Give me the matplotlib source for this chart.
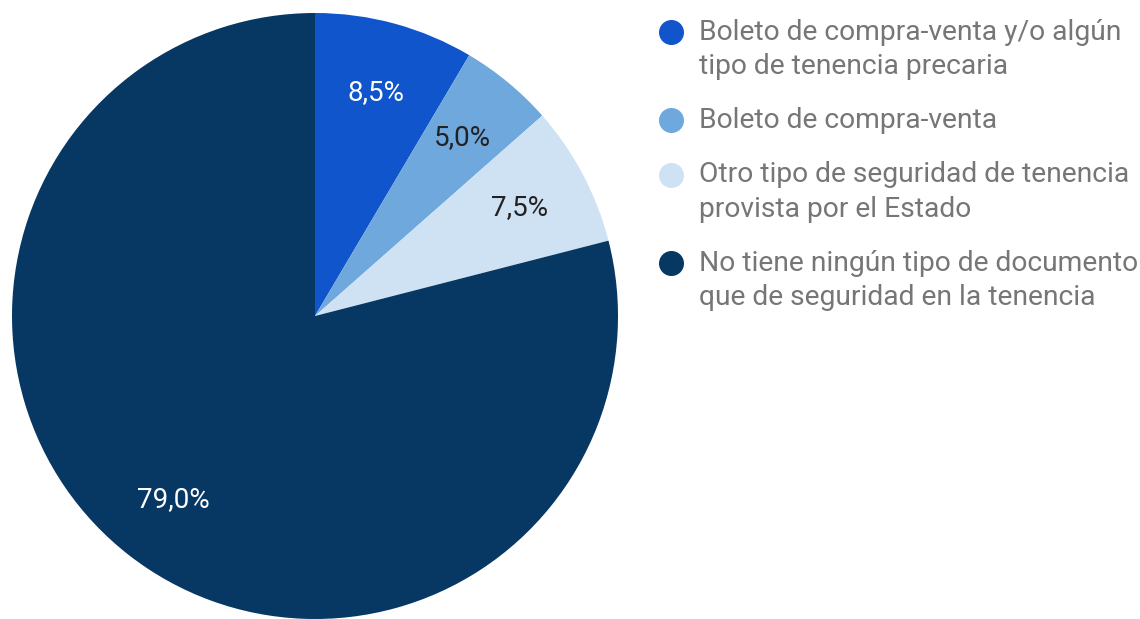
import matplotlib.pyplot as plt
from matplotlib.lines import Line2D

plt.rcParams['font.family'] = ['Roboto', 'DejaVu Sans']

labels = [
    'Boleto de compra-venta y/o algún\ntipo de tenencia precaria',
    'Boleto de compra-venta',
    'Otro tipo de seguridad de tenencia\nprovista por el Estado',
    'No tiene ningún tipo de documento\nque de seguridad en la tenencia',
]
values = [8.5, 5.0, 7.5, 79.0]
colors = ['#1155cc', '#6fa8dc', '#cfe2f3', '#073763']
pct_colors = ['white', '#222222', '#222222', 'white']

W, H = 1140, 619
fig = plt.figure(figsize=(W / 100, H / 100), dpi=100)

# pie centre / radius in pixels
cx, cy, r = 315, 316, 303
ax = fig.add_axes([(cx - r) / W, (H - cy - r) / H, 2 * r / W, 2 * r / H])
wedges, texts, autotexts = ax.pie(
    values, colors=colors, startangle=90, counterclock=False,
    autopct=lambda p: f'{p:.1f}%'.replace('.', ','), pctdistance=0.765,
    wedgeprops=dict(linewidth=0), textprops=dict(fontsize=20))
for t, c in zip(autotexts, pct_colors):
    t.set_color(c)
ax.set_xlim(-1, 1)
ax.set_ylim(-1, 1)
ax.set_aspect('equal')
ax.axis('off')

# legend drawn by hand so the dot sits on the first text line
line_h = 34
gap = 54.5
base = 39.5
for lab, col in zip(labels, colors):
    fig.add_artist(Line2D([671 / W], [1 - (base - 8) / H], marker='o', markersize=17,
                          color=col, linestyle='none', transform=fig.transFigure))
    parts = lab.split('\n')
    for i, part in enumerate(parts):
        fig.text(699 / W, 1 - (base + i * line_h) / H, part, fontsize=20.3,
                 color='#767676', va='baseline', ha='left')
    base += (len(parts) - 1) * line_h + gap

fig.savefig('out.png', dpi=100)
